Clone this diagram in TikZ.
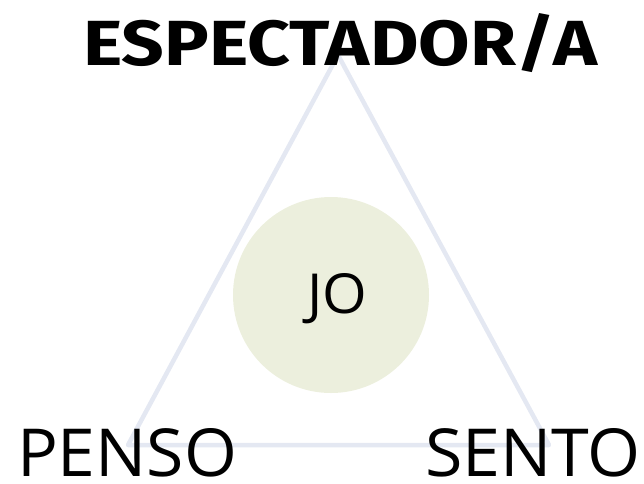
\documentclass[tikz,border=0pt]{standalone}
\usepackage{fontspec}
\setmainfont{Open Sans}
\newfontfamily\boldtitle{Fira Sans}
\usepackage{graphicx}
\definecolor{triline}{HTML}{E4E8F2}
\definecolor{jofill}{HTML}{ECEFDD}
\tikzset{
  edge/.style={draw=triline, line width=4.5pt, line join=round, line cap=round},
  lbl/.style={inner sep=0pt, outer sep=0pt, anchor=base west, text=black}
}
\begin{document}
\begin{tikzpicture}[x=1pt,y=-1pt]
\useasboundingbox (0,0) rectangle (644,483);
\coordinate (A) at (338,55);
\coordinate (B) at (128,445);
\coordinate (C) at (549,445);
\draw[edge] (A) -- (B) -- (C) -- cycle;
\node[circle, fill=jofill, minimum size=196pt, inner sep=0pt] (jo) at (331,295) {};
\node[lbl] (top) at (83,65) {\resizebox{514pt}{52pt}{\boldtitle\bfseries ESPECTADOR/A}};
\node[lbl] (penso) at (17,476) {\resizebox{220pt}{48pt}{PENSO}};
\node[lbl] (sento) at (425,476) {\resizebox{216pt}{48pt}{SENTO}};
\node[lbl] (jotext) at (307,313) {\resizebox{60pt}{40pt}{JO}};
\end{tikzpicture}
\end{document}
